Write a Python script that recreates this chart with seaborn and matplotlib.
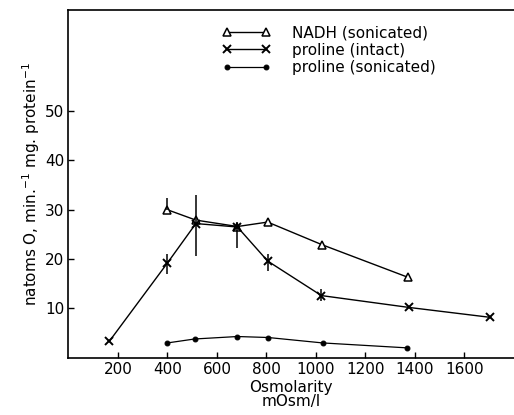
import matplotlib
matplotlib.use("Agg")
import matplotlib.pyplot as plt
import seaborn as sns
import pandas as pd
import numpy as np

# Data
nadh_x = [400, 515, 683, 805, 1025, 1372]
nadh_y = [30.0, 27.9, 26.6, 27.5, 22.9, 16.3]
nadh_err_lo = [0.0, 0.0, 0.0, 0.0, 0.0, 0.0]
nadh_err_hi = [2.4, 0.0, 0.0, 0.0, 0.0, 0.0]

intact_x = [165, 400, 515, 683, 805, 1022, 1375, 1702]
intact_y = [3.3, 19.2, 27.2, 26.5, 19.6, 12.6, 10.2, 8.2]
intact_err_lo = [0.0, 2.2, 6.5, 4.3, 2.0, 1.0, 0.0, 0.0]
intact_err_hi = [0.0, 1.8, 5.8, 1.1, 1.4, 1.4, 0.0, 0.0]

son_x = [400, 510, 683, 807, 1027, 1368]
son_y = [3.0, 3.8, 4.3, 4.1, 3.0, 2.0]

x_ticks = [200, 400, 600, 800, 1000, 1200, 1400, 1600]
y_ticks = [10, 20, 30, 40, 50]

sns.set_theme(style="ticks")
plt.rcParams['font.family'] = ['DejaVu Sans']
plt.rcParams['text.color'] = 'black'
plt.rcParams['axes.labelcolor'] = 'black'

fig = plt.figure(figsize=(5.14, 4.15), dpi=100)
ax = fig.add_axes([0.133, 0.138, 0.867, 0.838])

df_n = pd.DataFrame({"x": nadh_x, "y": nadh_y})
df_i = pd.DataFrame({"x": intact_x, "y": intact_y})
df_s = pd.DataFrame({"x": son_x, "y": son_y})

sns.lineplot(data=df_n, x="x", y="y", ax=ax, color="black", lw=1.0,
             marker="^", markersize=6, markerfacecolor="white",
             markeredgecolor="black", markeredgewidth=1.1,
             label="NADH (sonicated)")
sns.lineplot(data=df_i, x="x", y="y", ax=ax, color="black", lw=1.0,
             marker="x", markersize=6, markeredgecolor="black",
             markeredgewidth=1.4, label="proline (intact)")
sns.lineplot(data=df_s, x="x", y="y", ax=ax, color="black", lw=0.9,
             marker="o", markersize=3.5, markeredgecolor="black",
             markerfacecolor="black", label="proline (sonicated)")

ax.errorbar(nadh_x, nadh_y, yerr=[nadh_err_lo, nadh_err_hi], fmt="none",
            ecolor="black", elinewidth=1.1, capsize=0)
ax.errorbar(intact_x, intact_y, yerr=[intact_err_lo, intact_err_hi], fmt="none",
            ecolor="black", elinewidth=1.1, capsize=0)

ax.set_xlim(0, 1800)
ax.set_ylim(0, 70.5)
ax.set_xticks(x_ticks)
ax.set_yticks(y_ticks)
ax.tick_params(direction="in", length=4, width=1, labelsize=11, colors="black", pad=3)
for s in ["left", "bottom", "top"]:
    ax.spines[s].set_color("black")
    ax.spines[s].set_linewidth(1.2)
ax.spines["right"].set_visible(False)

ax.set_xlabel("Osmolarity\nmOsm/l", fontsize=11, linespacing=0.95, labelpad=2, color="black")
ax.set_ylabel(r"natoms O, min.$^{-1}$ mg. protein$^{-1}$", fontsize=11, labelpad=2, color="black")

leg = ax.legend(loc="upper center", bbox_to_anchor=(0.585, 0.995), frameon=False,
                numpoints=2, fontsize=11, handlelength=3.2, handletextpad=1.4,
                labelspacing=0.15)
for t in leg.get_texts():
    t.set_color("black")

fig.savefig("out.png", dpi=100)
